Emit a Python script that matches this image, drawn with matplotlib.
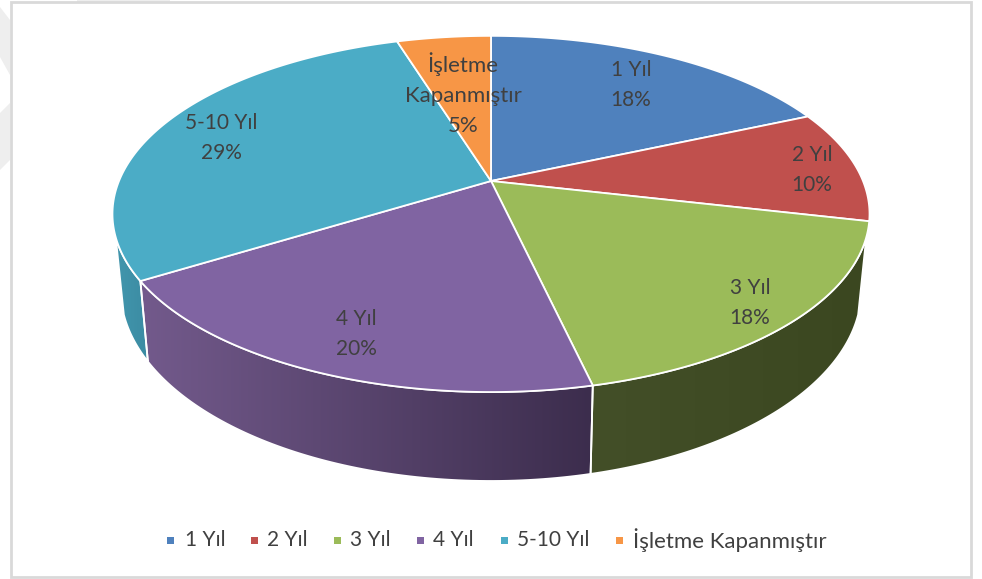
#!/usr/bin/env python
# -*- coding: utf-8 -*-
"""
3D gorunumlu pasta grafik
"""
import numpy as np
import matplotlib
matplotlib.use("Agg")
import matplotlib.pyplot as plt
from matplotlib.patches import Polygon, Rectangle
from matplotlib.colors import LinearSegmentedColormap

plt.rcParams['font.family'] = ['Lato', 'DejaVu Sans']

categories = ["1 Yıl", "2 Yıl", "3 Yıl", "4 Yıl", "5-10 Yıl", "İşletme Kapanmıştır"]
label_lines = ["1 Yıl", "2 Yıl", "3 Yıl", "4 Yıl", "5-10 Yıl", "İşletme\nKapanmıştır"]
values = [18.4, 10.2, 17.8, 19.8, 29.0, 4.8]
colors = ["#4f81bd", "#c0504d", "#9bbb59", "#8064a2", "#4bacc6", "#f79646"]

# etiket konumlari (piksel)
label_x = [631, 812, 750, 356, 221, 463]
label_y = [85, 170, 303, 334, 138, 94]
label_size = [15, 15, 15, 15, 15, 16]
legend_marker_x = [171, 255, 338, 421, 505, 620]
legend_text_x = [185, 267, 350, 433, 517, 633]
legend_size = [15, 15, 15, 15, 15, 16]

# yan yuzey renkleri (sol, sag)
wall_colors = {2: ("#434f28", "#3b4720"), 3: ("#735a8c", "#3c2d4d"), 4: ("#4296ad", "#3b8ba2")}

TEXT = "#404040"
K = 0.185
CX = 491


#-------------------------------------------------------#
def top_rim(theta):
    # perspektifli ust daire, theta saat yonunde tepeden
    u, v = np.sin(theta), np.cos(theta)
    d = 1 + K * v
    return CX + 372 * u / d, 181 - 172 * v / d


def low_rim(theta):
    # alt kenar
    u, v = np.sin(theta), np.cos(theta)
    d = 1 + K * v
    return CX + 364 * u / d, 254 - 185 * v / d
#-------------------------------------------------------#


#-------------------------------------------------------#
def draw_wall(ax, a, b, c1, c2):
    t = np.linspace(a, b, 80)
    x1, y1 = top_rim(t)
    x2, y2 = low_rim(t[::-1])
    xy = np.column_stack([np.r_[x1, x2], np.r_[y1, y2]])
    poly = Polygon(xy, closed=True, fc="none", ec="none")
    ax.add_patch(poly)
    cmap = LinearSegmentedColormap.from_list("w", [c1, c2])
    im = ax.imshow(np.linspace(0, 1, 256).reshape(1, -1), cmap=cmap, aspect="auto",
                   extent=(xy[:, 0].min(), xy[:, 0].max(), xy[:, 1].max(), xy[:, 1].min()),
                   zorder=2)
    im.set_clip_path(poly)
    ax.add_patch(Polygon(xy, closed=True, fc="none", ec="white", lw=1.3, zorder=3))
#-------------------------------------------------------#


#-------------------------------------------------------#
def make_graph():
    fig = plt.figure(figsize=(9.82, 5.79), dpi=100)
    ax = fig.add_axes([0, 0, 1, 1])

    # arka plandaki soluk filigran
    for pts in ([(0, 7), (10, 20), (10, 75), (0, 57)],
                [(0, 113), (10, 103), (10, 160), (0, 170)],
                [(77, 0), (170, 0), (170, 2), (77, 2)]):
        ax.add_patch(Polygon(pts, closed=True, fc="#eeeeee", ec="none", zorder=0))
    ax.add_patch(Rectangle((11, 2), 960, 575, fc="white", ec="#d9d9d9", lw=2, zorder=1))

    edges = np.r_[0, np.cumsum(values)] / sum(values) * 2 * np.pi
    vis_a, vis_b = np.radians(108), np.radians(252)

    # yan yuzeyler
    for i in wall_colors:
        a, b = max(edges[i], vis_a), min(edges[i + 1], vis_b)
        draw_wall(ax, a, b, *wall_colors[i])

    # ust yuzey
    for i in range(len(values)):
        t = np.linspace(edges[i], edges[i + 1], 120)
        x, y = top_rim(t)
        xy = np.column_stack([np.r_[CX, x], np.r_[181, y]])
        ax.add_patch(Polygon(xy, closed=True, fc=colors[i], ec="white", lw=1.3,
                             joinstyle="round", zorder=4))

    # etiketler
    for i in range(len(values)):
        s = "%s\n%d%%" % (label_lines[i], round(values[i]))
        ax.text(label_x[i], label_y[i], s, ha="center", va="center", fontsize=label_size[i],
                color=TEXT, linespacing=1.62, zorder=5)

    # lejant
    for i in range(len(categories)):
        ax.add_patch(Rectangle((legend_marker_x[i] - 3.5, 536.5), 7, 7, fc=colors[i], ec="none", zorder=5))
        ax.text(legend_text_x[i], 540, categories[i], ha="left", va="center",
                fontsize=legend_size[i], color=TEXT, zorder=5)

    ax.set_xlim(0, 982)
    ax.set_ylim(579, 0)
    ax.axis("off")
    fig.savefig("out.png", dpi=100, facecolor="white")
#-------------------------------------------------------#


if __name__ == '__main__':
    make_graph()
